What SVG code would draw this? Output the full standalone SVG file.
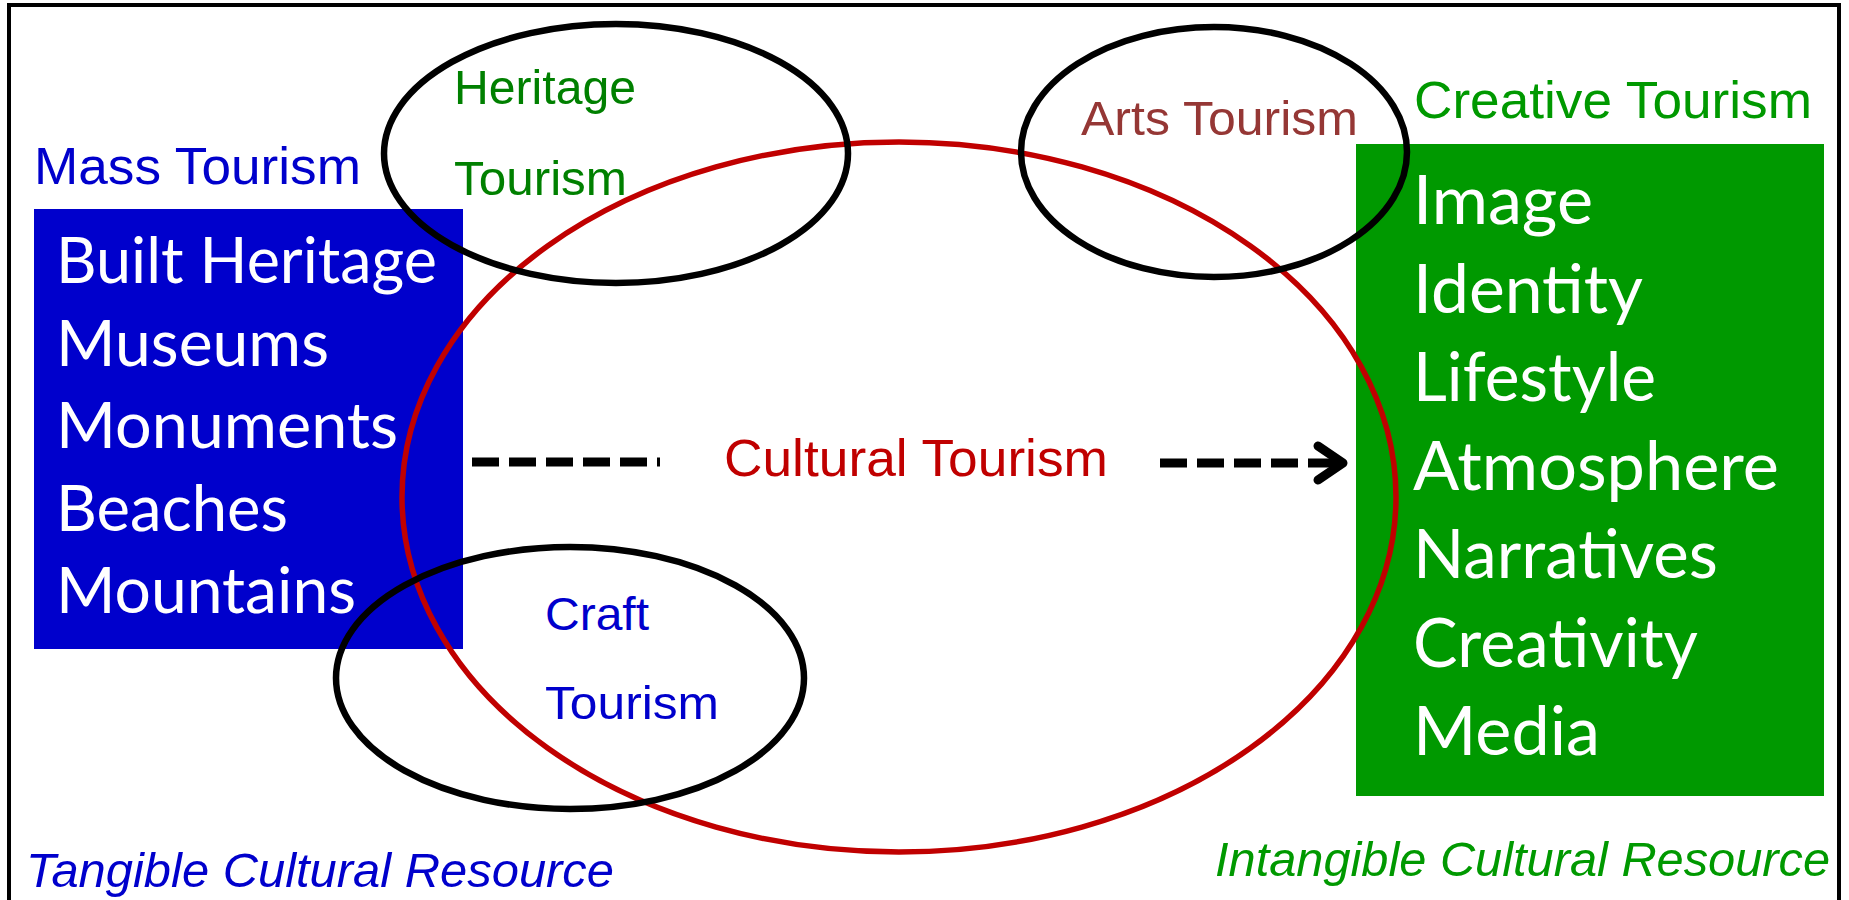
<svg xmlns="http://www.w3.org/2000/svg" width="1849" height="900" viewBox="0 0 1849 900">
<style>
.arial{font-family:"Liberation Sans",Arial,sans-serif}
.box{font-family:Lato,"Open Sans",sans-serif;fill:#ffffff}
.ell{fill:none;stroke:#000000;stroke-width:6.5}
.dash{fill:none;stroke:#000000;stroke-width:9;stroke-dasharray:27 10}
</style>
<rect x="0" y="0" width="1849" height="900" fill="#ffffff"/>
<rect id="frame" x="9" y="5" width="1830" height="950" fill="none" stroke="#000000" stroke-width="4"/>
<g id="mass-tourism">
<text class="arial" x="34" y="184" font-size="52" fill="#0000CC" textLength="327" lengthAdjust="spacingAndGlyphs">Mass Tourism</text>
<rect x="34" y="209" width="429" height="440" fill="#0000CC"/>
<g class="box" font-size="64" lengthAdjust="spacingAndGlyphs">
<text x="56" y="283" textLength="381" lengthAdjust="spacingAndGlyphs">Built Heritage</text>
<text x="56" y="366" textLength="273" lengthAdjust="spacingAndGlyphs">Museums</text>
<text x="56" y="448" textLength="342" lengthAdjust="spacingAndGlyphs">Monuments</text>
<text x="56" y="531" textLength="232" lengthAdjust="spacingAndGlyphs">Beaches</text>
<text x="56" y="613" textLength="300" lengthAdjust="spacingAndGlyphs">Mountains</text>
</g>
</g>
<g id="creative-tourism">
<text class="arial" x="1414" y="118" font-size="52" fill="#009900" textLength="398" lengthAdjust="spacingAndGlyphs">Creative Tourism</text>
<rect x="1356" y="144" width="468" height="652" fill="#009900"/>
<g class="box" font-size="67">
<text x="1413" y="224" textLength="180" lengthAdjust="spacingAndGlyphs">Image</text>
<text x="1413" y="312.5" textLength="230" lengthAdjust="spacingAndGlyphs">Identity</text>
<text x="1413" y="401" textLength="243" lengthAdjust="spacingAndGlyphs">Lifestyle</text>
<text x="1413" y="489.5" textLength="366" lengthAdjust="spacingAndGlyphs">Atmosphere</text>
<text x="1413" y="578" textLength="305" lengthAdjust="spacingAndGlyphs">Narratives</text>
<text x="1413" y="666.5" textLength="285" lengthAdjust="spacingAndGlyphs">Creativity</text>
<text x="1413" y="755" textLength="187" lengthAdjust="spacingAndGlyphs">Media</text>
</g>
</g>
<g id="cultural-tourism">
<ellipse cx="899" cy="497" rx="497" ry="355" fill="none" stroke="#C00000" stroke-width="5.5"/>
<text class="arial" x="724" y="476" font-size="52" fill="#C00000" textLength="384" lengthAdjust="spacingAndGlyphs">Cultural Tourism</text>
</g>
<g id="heritage-tourism">
<ellipse class="ell" cx="616" cy="153.5" rx="232" ry="129.5"/>
<text class="arial" x="454" y="104" font-size="48" fill="#008000" textLength="182" lengthAdjust="spacingAndGlyphs">Heritage</text>
<text class="arial" x="454" y="195" font-size="48" fill="#008000" textLength="173" lengthAdjust="spacingAndGlyphs">Tourism</text>
</g>
<g id="arts-tourism">
<ellipse class="ell" cx="1214" cy="152" rx="193" ry="125"/>
<text class="arial" x="1081" y="135" font-size="49" fill="#953735" textLength="277" lengthAdjust="spacingAndGlyphs">Arts Tourism</text>
</g>
<g id="craft-tourism">
<ellipse class="ell" cx="570" cy="678" rx="234" ry="131"/>
<text class="arial" x="545" y="630" font-size="47" fill="#0000CC" textLength="104" lengthAdjust="spacingAndGlyphs">Craft</text>
<text class="arial" x="545" y="719" font-size="47" fill="#0000CC" textLength="174" lengthAdjust="spacingAndGlyphs">Tourism</text>
</g>
<g id="resource-labels">
<text class="arial" x="26" y="887" font-size="48" font-style="italic" fill="#0000CC" textLength="588" lengthAdjust="spacingAndGlyphs">Tangible Cultural Resource</text>
<text class="arial" x="1215" y="876" font-size="48" font-style="italic" fill="#009900" textLength="615" lengthAdjust="spacingAndGlyphs">Intangible Cultural Resource</text>
</g>
<g id="connectors">
<line class="dash" x1="472" y1="462" x2="660" y2="462"/>
<line class="dash" x1="1160" y1="463" x2="1335" y2="463"/>
<polyline points="1318,446 1343,463 1318,480" fill="none" stroke="#000000" stroke-width="9" stroke-linecap="round" stroke-linejoin="round"/>
</g>
</svg>
